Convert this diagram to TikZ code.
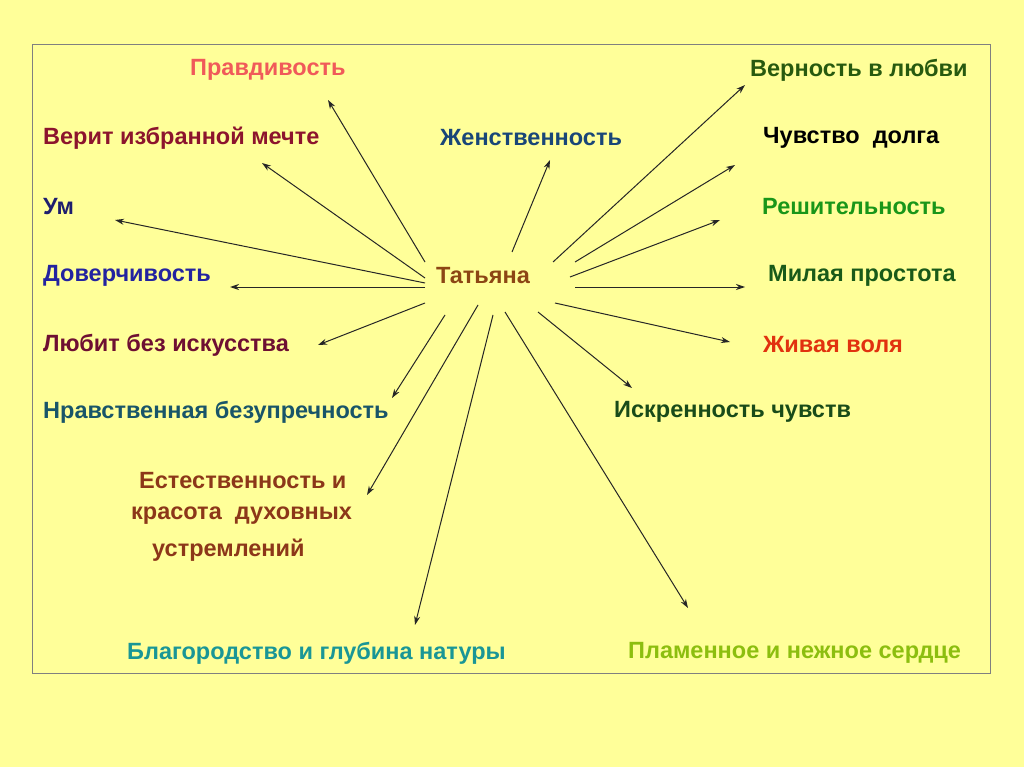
\documentclass[tikz,border=0pt]{standalone}
\usepackage{fontspec}
\setmainfont{Liberation Sans}
\usetikzlibrary{arrows.meta}
\definecolor{bg}{RGB}{255,255,153}
\begin{document}
\begin{tikzpicture}[x=1pt,y=-1pt,
  lbl/.style={anchor=west,inner sep=0pt,font=\fontsize{23.5}{28}\selectfont\bfseries},
  arr/.style={-{Stealth[length=9pt,width=6pt]},line width=1pt,black!85}]
\fill[bg] (0,0) rectangle (1024,767);
\useasboundingbox (0,0) rectangle (1024,767);
\draw[gray,line width=0.8pt] (32,44) rectangle (990,673);
\node[lbl,color={rgb,255:red,240;green,90;blue,90}] (n1) at (190,70) {Правдивость};
\node[lbl,color={rgb,255:red,140;green,20;blue,45}] (n2) at (43,138) {Верит избранной мечте};
\node[lbl,color={rgb,255:red,30;green,30;blue,110}] (n3) at (43,207) {Ум};
\node[lbl,color={rgb,255:red,35;green,35;blue,160}] (n4) at (43,276) {Доверчивость};
\node[lbl,color={rgb,255:red,110;green,15;blue,50}] (n5) at (43,345) {Любит без искусства};
\node[lbl,color={rgb,255:red,25;green,85;blue,105}] (n6) at (43,412) {Нравственная безупречность};
\node[lbl,color={rgb,255:red,140;green,55;blue,25}] (n7a) at (139,481) {Естественность и};
\node[lbl,color={rgb,255:red,140;green,55;blue,25}] (n7b) at (131,516) {красота\ \ духовных};
\node[lbl,color={rgb,255:red,140;green,55;blue,25}] (n7c) at (152,550) {устремлений};
\node[lbl,color={rgb,255:red,25;green,150;blue,150}] (n8) at (127,653) {Благородство и глубина натуры};
\node[lbl,color={rgb,255:red,25;green,70;blue,120}] (n9) at (440,138) {Женственность};
\node[lbl,color={rgb,255:red,40;green,90;blue,15}] (n10) at (750,70) {Верность в любви};
\node[lbl,color=black] (n11) at (763,138) {Чувство\ \ долга};
\node[lbl,color={rgb,255:red,25;green,150;blue,25}] (n12) at (762,207) {Решительность};
\node[lbl,color={rgb,255:red,25;green,90;blue,25}] (n13) at (768,276) {Милая простота};
\node[lbl,color={rgb,255:red,225;green,50;blue,15}] (n14) at (763,345) {Живая воля};
\node[lbl,color={rgb,255:red,25;green,75;blue,25}] (n15) at (614,412) {Искренность чувств};
\node[lbl,color={rgb,255:red,140;green,190;blue,15}] (n16) at (628,653) {Пламенное и нежное сердце};
\node[lbl,anchor=center,color={rgb,255:red,140;green,70;blue,20}] (t) at (483,276) {Татьяна};
\foreach \i/\sx/\sy/\ex/\ey in {1/425/262/328/100, 2/425/278/262/163, 3/425/283/115/220, 4/425/287/230/287,
  5/425/303/318/345, 6/445/315/392/398, 7/478/305/367/495, 8/493/315/415/625,
  9/512/252/550/160, 10/553/262/745/85, 11/575/262/735/165, 12/570/277/720/220,
  13/575/287/745/287, 14/555/303/730/342, 15/538/312/632/388, 16/505/312/688/608}{
  \coordinate (s\i) at (\sx,\sy);
  \coordinate (e\i) at (\ex,\ey);
  \draw[arr] (s\i) -- (e\i);
}
\end{tikzpicture}
\end{document}
